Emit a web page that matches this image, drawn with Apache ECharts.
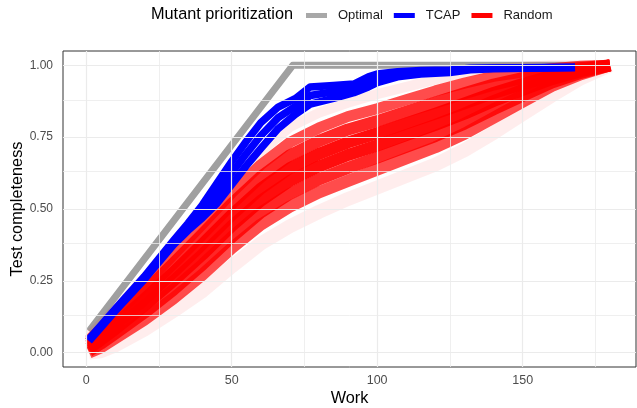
<!DOCTYPE html>
<html>
<head>
<meta charset="utf-8">
<script src="https://cdn.jsdelivr.net/npm/echarts@6/dist/echarts.min.js"></script>
<style>
  html, body { margin: 0; padding: 0; background: #fff; }
  #chart { width: 637px; height: 408px; }
</style>
</head>
<body>
<div id="chart"></div>
<script>
const legendNames = ['Optimal', 'TCAP', 'Random'];
const xTicks = [0, 50, 100, 150];
const xMinor = [25, 75, 125, 175];
const yTicks = [0, 0.25, 0.5, 0.75, 1];
const yMinor = [0.125, 0.375, 0.625, 0.875];

// optimal ordering
const optimalWork = [1, 71, 180];
const optimalDone = [0.075, 1, 1];

// TCAP runs
const tcapWork  = [1, 10, 20, 30, 35, 40, 45, 50, 55, 60, 66, 72, 77, 85, 92, 97, 100, 107, 115, 125, 132, 140, 150, 168];
const tcapUpper = [0.048, 0.152, 0.265, 0.39, 0.45, 0.515, 0.59, 0.665, 0.735, 0.8, 0.855, 0.885, 0.925, 0.93, 0.935, 0.96, 0.97, 0.978, 0.982, 0.984, 0.99, 0.991, 0.992, 0.993];
const tcapMid   = [0.044, 0.148, 0.26, 0.383, 0.437, 0.492, 0.555, 0.625, 0.692, 0.755, 0.818, 0.858, 0.895, 0.908, 0.92, 0.943, 0.955, 0.969, 0.976, 0.98, 0.988, 0.99, 0.991, 0.993];
const tcapLower = [0.04, 0.145, 0.255, 0.375, 0.425, 0.47, 0.52, 0.585, 0.65, 0.71, 0.78, 0.83, 0.865, 0.885, 0.905, 0.925, 0.94, 0.96, 0.97, 0.975, 0.985, 0.988, 0.99, 0.992];

// random orderings
const randomWork = [1, 5, 10, 20, 30, 40, 50, 60, 70, 80, 90, 100, 110, 120, 130, 140, 150, 160, 170, 180];
const randomLowFringe = [0.0, 0.005, 0.025, 0.08, 0.145, 0.215, 0.3, 0.38, 0.44, 0.49, 0.535, 0.575, 0.615, 0.655, 0.705, 0.765, 0.83, 0.895, 0.955, 1.0];
const random1 = [0.0, 0.018, 0.05, 0.115, 0.189, 0.272, 0.364, 0.446, 0.508, 0.558, 0.598, 0.637, 0.676, 0.715, 0.762, 0.818, 0.873, 0.928, 0.969, 1.0];
const random2 = [0.006, 0.031, 0.066, 0.139, 0.219, 0.307, 0.402, 0.488, 0.553, 0.603, 0.643, 0.679, 0.716, 0.754, 0.797, 0.847, 0.894, 0.94, 0.974, 1.0];
const random3 = [0.015, 0.044, 0.082, 0.163, 0.25, 0.342, 0.441, 0.529, 0.598, 0.648, 0.688, 0.721, 0.757, 0.793, 0.832, 0.876, 0.915, 0.952, 0.98, 1.0];
const random4 = [0.025, 0.056, 0.098, 0.187, 0.28, 0.378, 0.479, 0.571, 0.642, 0.692, 0.732, 0.764, 0.798, 0.832, 0.868, 0.904, 0.935, 0.964, 0.985, 1.0];
const random5 = [0.034, 0.069, 0.114, 0.211, 0.311, 0.413, 0.518, 0.612, 0.687, 0.737, 0.777, 0.806, 0.839, 0.871, 0.903, 0.933, 0.956, 0.976, 0.991, 1.0];
const random6 = [0.044, 0.082, 0.13, 0.235, 0.341, 0.448, 0.556, 0.654, 0.732, 0.782, 0.822, 0.849, 0.88, 0.911, 0.938, 0.962, 0.977, 0.988, 0.997, 1.0];
const randomHighFringe = [0.06, 0.1, 0.15, 0.26, 0.375, 0.49, 0.6, 0.7, 0.785, 0.835, 0.87, 0.9, 0.925, 0.95, 0.975, 0.99, 0.995, 1.0, 1.0, 1.0];

const font = '"Liberation Sans", Arial, Helvetica, sans-serif';

function lineSeries(name, xs, ys, color, width, opacity) {
  return {
    name: name,
    type: 'line',
    data: xs.map((x, i) => [x, ys[i]]),
    symbol: 'none',
    silent: true,
    animation: false,
    itemStyle: { color: color },
    lineStyle: { color: color, width: width, opacity: opacity, cap: 'butt', join: 'round' }
  };
}

const gridLines = [];
xTicks.concat(xMinor).forEach(v => gridLines.push({ xAxis: v, lineStyle: { width: xTicks.includes(v) ? 1.2 : 0.8 } }));
yTicks.concat(yMinor).forEach(v => gridLines.push({ yAxis: v, lineStyle: { width: yTicks.includes(v) ? 1.2 : 0.8 } }));

const series = [
  {
    name: 'grid',
    type: 'line',
    data: [],
    silent: true,
    animation: false,
    markLine: {
      silent: true,
      animation: false,
      symbol: ['none', 'none'],
      label: { show: false },
      lineStyle: { color: '#EBEBEB', type: 'solid' },
      data: gridLines
    }
  },
  lineSeries('Optimal', optimalWork, optimalDone, '#a0a0a0', 7, 1),
  lineSeries('Random', randomWork, randomLowFringe, '#ff0000', 14, 0.07),
  lineSeries('Random', randomWork, randomHighFringe, '#ff0000', 10, 0.08),
  lineSeries('Random', randomWork, random1, '#ff0000', 12, 0.7),
  lineSeries('Random', randomWork, random2, '#ff0000', 12, 0.85),
  lineSeries('Random', randomWork, random3, '#ff0000', 12, 0.95),
  lineSeries('Random', randomWork, random4, '#ff0000', 12, 0.95),
  lineSeries('Random', randomWork, random5, '#ff0000', 12, 0.85),
  lineSeries('Random', randomWork, random6, '#ff0000', 11, 0.7),
  lineSeries('TCAP', tcapWork, tcapLower, '#0000ff', 7.5, 1),
  lineSeries('TCAP', tcapWork, tcapUpper, '#0000ff', 7.5, 1),
  lineSeries('TCAP', tcapWork, tcapMid, '#0000ff', 7.5, 1)
];

const legendColors = { Optimal: '#a8a8a8', TCAP: '#0000ff', Random: '#ff0000' };

const chart = echarts.init(document.getElementById('chart'), null, { renderer: 'canvas' });
chart.setOption({
  animation: false,
  backgroundColor: '#fff',
  textStyle: { fontFamily: font },
  title: {
    text: 'Mutant prioritization',
    left: 151,
    top: 7,
    padding: 0,
    textStyle: { fontFamily: font, fontSize: 16.3, fontWeight: 'normal', color: '#000' }
  },
  legend: {
    left: 306,
    top: 9,
    padding: 0,
    icon: 'rect',
    itemWidth: 21,
    itemHeight: 5,
    itemGap: 11,
    selectedMode: false,
    data: legendNames.map(n => ({ name: n, itemStyle: { color: legendColors[n], opacity: 1 } })),
    textStyle: { fontFamily: font, fontSize: 13, color: '#1a1a1a', padding: [0, 0, 0, 6] }
  },
  grid: {
    left: 63, right: 1, top: 51, bottom: 41,
    outerBoundsMode: 'none',
    containLabel: false,
    show: true, borderColor: '#333333', borderWidth: 1, backgroundColor: '#fff'
  },
  xAxis: {
    type: 'value',
    min: -7.95,
    max: 188.95,
    name: 'Work',
    nameLocation: 'middle',
    nameGap: 24,
    nameMoveOverlap: false,
    nameTextStyle: { fontFamily: font, fontSize: 16.3, color: '#000' },
    axisLine: { show: false },
    splitLine: { show: false },
    axisTick: { show: true, length: 4, customValues: xTicks, lineStyle: { color: '#333333' } },
    axisLabel: { customValues: xTicks, margin: 7, fontFamily: font, fontSize: 12.5, color: '#4d4d4d' }
  },
  yAxis: {
    type: 'value',
    min: -0.05,
    max: 1.05,
    name: 'Test completeness',
    nameLocation: 'middle',
    nameGap: 37,
    nameMoveOverlap: false,
    nameTextStyle: { fontFamily: font, fontSize: 16.3, color: '#000' },
    axisLine: { show: false },
    splitLine: { show: false },
    axisTick: { show: true, length: 4, customValues: yTicks, lineStyle: { color: '#333333' } },
    axisLabel: { customValues: yTicks, margin: 10, fontFamily: font, fontSize: 12, color: '#4d4d4d',
      formatter: v => v.toFixed(2) }
  },
  series: series
});
</script>
</body>
</html>
